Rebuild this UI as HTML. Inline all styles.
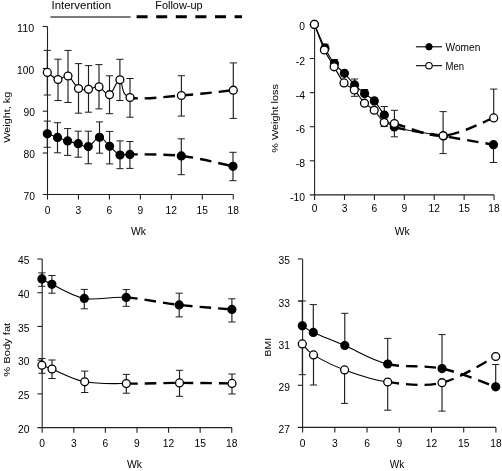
<!DOCTYPE html>
<html><head><meta charset="utf-8"><style>
html,body{margin:0;padding:0;background:#fff;}
svg{display:block;font-family:"Liberation Sans", sans-serif;will-change:transform;}
</style></head><body>
<svg width="502" height="471" viewBox="0 0 502 471">
<rect width="502" height="471" fill="#fff"/>
<line x1="47.3" y1="50.4" x2="47.3" y2="95" stroke="#1e1e1e" stroke-width="1.15"/>
<line x1="43.7" y1="50.4" x2="50.9" y2="50.4" stroke="#1e1e1e" stroke-width="1"/>
<line x1="43.7" y1="95" x2="50.9" y2="95" stroke="#1e1e1e" stroke-width="1"/>
<line x1="58" y1="59.2" x2="58" y2="100.5" stroke="#1e1e1e" stroke-width="1.15"/>
<line x1="54.4" y1="59.2" x2="61.6" y2="59.2" stroke="#1e1e1e" stroke-width="1"/>
<line x1="54.4" y1="100.5" x2="61.6" y2="100.5" stroke="#1e1e1e" stroke-width="1"/>
<line x1="68" y1="50.4" x2="68" y2="102.5" stroke="#1e1e1e" stroke-width="1.15"/>
<line x1="64.4" y1="50.4" x2="71.6" y2="50.4" stroke="#1e1e1e" stroke-width="1"/>
<line x1="64.4" y1="102.5" x2="71.6" y2="102.5" stroke="#1e1e1e" stroke-width="1"/>
<line x1="78.5" y1="63.6" x2="78.5" y2="113.2" stroke="#1e1e1e" stroke-width="1.15"/>
<line x1="74.9" y1="63.6" x2="82.1" y2="63.6" stroke="#1e1e1e" stroke-width="1"/>
<line x1="74.9" y1="113.2" x2="82.1" y2="113.2" stroke="#1e1e1e" stroke-width="1"/>
<line x1="88.5" y1="65.6" x2="88.5" y2="112.2" stroke="#1e1e1e" stroke-width="1.15"/>
<line x1="84.9" y1="65.6" x2="92.1" y2="65.6" stroke="#1e1e1e" stroke-width="1"/>
<line x1="84.9" y1="112.2" x2="92.1" y2="112.2" stroke="#1e1e1e" stroke-width="1"/>
<line x1="99" y1="64.6" x2="99" y2="108.9" stroke="#1e1e1e" stroke-width="1.15"/>
<line x1="95.4" y1="64.6" x2="102.6" y2="64.6" stroke="#1e1e1e" stroke-width="1"/>
<line x1="95.4" y1="108.9" x2="102.6" y2="108.9" stroke="#1e1e1e" stroke-width="1"/>
<line x1="109.5" y1="75.8" x2="109.5" y2="113.7" stroke="#1e1e1e" stroke-width="1.15"/>
<line x1="105.9" y1="75.8" x2="113.1" y2="75.8" stroke="#1e1e1e" stroke-width="1"/>
<line x1="105.9" y1="113.7" x2="113.1" y2="113.7" stroke="#1e1e1e" stroke-width="1"/>
<line x1="119.9" y1="59.3" x2="119.9" y2="100.5" stroke="#1e1e1e" stroke-width="1.15"/>
<line x1="116.3" y1="59.3" x2="123.5" y2="59.3" stroke="#1e1e1e" stroke-width="1"/>
<line x1="116.3" y1="100.5" x2="123.5" y2="100.5" stroke="#1e1e1e" stroke-width="1"/>
<line x1="130" y1="78.5" x2="130" y2="117.2" stroke="#1e1e1e" stroke-width="1.15"/>
<line x1="126.4" y1="78.5" x2="133.6" y2="78.5" stroke="#1e1e1e" stroke-width="1"/>
<line x1="126.4" y1="117.2" x2="133.6" y2="117.2" stroke="#1e1e1e" stroke-width="1"/>
<line x1="181.4" y1="75.7" x2="181.4" y2="116.1" stroke="#1e1e1e" stroke-width="1.15"/>
<line x1="177.8" y1="75.7" x2="185" y2="75.7" stroke="#1e1e1e" stroke-width="1"/>
<line x1="177.8" y1="116.1" x2="185" y2="116.1" stroke="#1e1e1e" stroke-width="1"/>
<line x1="233.3" y1="62.9" x2="233.3" y2="118.4" stroke="#1e1e1e" stroke-width="1.15"/>
<line x1="229.7" y1="62.9" x2="236.9" y2="62.9" stroke="#1e1e1e" stroke-width="1"/>
<line x1="229.7" y1="118.4" x2="236.9" y2="118.4" stroke="#1e1e1e" stroke-width="1"/>
<line x1="47.3" y1="121.1" x2="47.3" y2="147.3" stroke="#1e1e1e" stroke-width="1.15"/>
<line x1="43.7" y1="121.1" x2="50.9" y2="121.1" stroke="#1e1e1e" stroke-width="1"/>
<line x1="43.7" y1="147.3" x2="50.9" y2="147.3" stroke="#1e1e1e" stroke-width="1"/>
<line x1="57.5" y1="122.7" x2="57.5" y2="152.8" stroke="#1e1e1e" stroke-width="1.15"/>
<line x1="53.9" y1="122.7" x2="61.1" y2="122.7" stroke="#1e1e1e" stroke-width="1"/>
<line x1="53.9" y1="152.8" x2="61.1" y2="152.8" stroke="#1e1e1e" stroke-width="1"/>
<line x1="67.6" y1="128.6" x2="67.6" y2="155.4" stroke="#1e1e1e" stroke-width="1.15"/>
<line x1="64" y1="128.6" x2="71.2" y2="128.6" stroke="#1e1e1e" stroke-width="1"/>
<line x1="64" y1="155.4" x2="71.2" y2="155.4" stroke="#1e1e1e" stroke-width="1"/>
<line x1="78.2" y1="131.2" x2="78.2" y2="157.2" stroke="#1e1e1e" stroke-width="1.15"/>
<line x1="74.6" y1="131.2" x2="81.8" y2="131.2" stroke="#1e1e1e" stroke-width="1"/>
<line x1="74.6" y1="157.2" x2="81.8" y2="157.2" stroke="#1e1e1e" stroke-width="1"/>
<line x1="88.3" y1="131.2" x2="88.3" y2="163.8" stroke="#1e1e1e" stroke-width="1.15"/>
<line x1="84.7" y1="131.2" x2="91.9" y2="131.2" stroke="#1e1e1e" stroke-width="1"/>
<line x1="84.7" y1="163.8" x2="91.9" y2="163.8" stroke="#1e1e1e" stroke-width="1"/>
<line x1="99.5" y1="121.9" x2="99.5" y2="153.2" stroke="#1e1e1e" stroke-width="1.15"/>
<line x1="95.9" y1="121.9" x2="103.1" y2="121.9" stroke="#1e1e1e" stroke-width="1"/>
<line x1="95.9" y1="153.2" x2="103.1" y2="153.2" stroke="#1e1e1e" stroke-width="1"/>
<line x1="109.6" y1="131.4" x2="109.6" y2="163.9" stroke="#1e1e1e" stroke-width="1.15"/>
<line x1="106" y1="131.4" x2="113.2" y2="131.4" stroke="#1e1e1e" stroke-width="1"/>
<line x1="106" y1="163.9" x2="113.2" y2="163.9" stroke="#1e1e1e" stroke-width="1"/>
<line x1="120" y1="140.9" x2="120" y2="168.7" stroke="#1e1e1e" stroke-width="1.15"/>
<line x1="116.4" y1="140.9" x2="123.6" y2="140.9" stroke="#1e1e1e" stroke-width="1"/>
<line x1="116.4" y1="168.7" x2="123.6" y2="168.7" stroke="#1e1e1e" stroke-width="1"/>
<line x1="129.9" y1="141.5" x2="129.9" y2="168.4" stroke="#1e1e1e" stroke-width="1.15"/>
<line x1="126.3" y1="141.5" x2="133.5" y2="141.5" stroke="#1e1e1e" stroke-width="1"/>
<line x1="126.3" y1="168.4" x2="133.5" y2="168.4" stroke="#1e1e1e" stroke-width="1"/>
<line x1="181.3" y1="138.8" x2="181.3" y2="174.7" stroke="#1e1e1e" stroke-width="1.15"/>
<line x1="177.7" y1="138.8" x2="184.9" y2="138.8" stroke="#1e1e1e" stroke-width="1"/>
<line x1="177.7" y1="174.7" x2="184.9" y2="174.7" stroke="#1e1e1e" stroke-width="1"/>
<line x1="233" y1="152.3" x2="233" y2="180.7" stroke="#1e1e1e" stroke-width="1.15"/>
<line x1="229.4" y1="152.3" x2="236.6" y2="152.3" stroke="#1e1e1e" stroke-width="1"/>
<line x1="229.4" y1="180.7" x2="236.6" y2="180.7" stroke="#1e1e1e" stroke-width="1"/>
<line x1="325" y1="44.2" x2="325" y2="48.2" stroke="#1e1e1e" stroke-width="1.15"/>
<line x1="321.4" y1="44.2" x2="328.6" y2="44.2" stroke="#1e1e1e" stroke-width="1"/>
<line x1="334.4" y1="59.5" x2="334.4" y2="63.6" stroke="#1e1e1e" stroke-width="1.15"/>
<line x1="330.8" y1="59.5" x2="338" y2="59.5" stroke="#1e1e1e" stroke-width="1"/>
<line x1="354.6" y1="79" x2="354.6" y2="84.9" stroke="#1e1e1e" stroke-width="1.15"/>
<line x1="351" y1="79" x2="358.2" y2="79" stroke="#1e1e1e" stroke-width="1"/>
<line x1="354.6" y1="84.9" x2="354.6" y2="96.3" stroke="#1e1e1e" stroke-width="1.15"/>
<line x1="351" y1="96.3" x2="358.2" y2="96.3" stroke="#1e1e1e" stroke-width="1"/>
<line x1="364.6" y1="89.5" x2="364.6" y2="93.6" stroke="#1e1e1e" stroke-width="1.15"/>
<line x1="361" y1="89.5" x2="368.2" y2="89.5" stroke="#1e1e1e" stroke-width="1"/>
<line x1="374.3" y1="98" x2="374.3" y2="100.9" stroke="#1e1e1e" stroke-width="1.15"/>
<line x1="370.7" y1="98" x2="377.9" y2="98" stroke="#1e1e1e" stroke-width="1"/>
<line x1="384.3" y1="106.5" x2="384.3" y2="115" stroke="#1e1e1e" stroke-width="1.15"/>
<line x1="380.7" y1="106.5" x2="387.9" y2="106.5" stroke="#1e1e1e" stroke-width="1"/>
<line x1="493.5" y1="144.7" x2="493.5" y2="162.5" stroke="#1e1e1e" stroke-width="1.15"/>
<line x1="489.9" y1="162.5" x2="497.1" y2="162.5" stroke="#1e1e1e" stroke-width="1"/>
<line x1="384.2" y1="122.6" x2="384.2" y2="126.5" stroke="#1e1e1e" stroke-width="1.15"/>
<line x1="380.6" y1="126.5" x2="387.8" y2="126.5" stroke="#1e1e1e" stroke-width="1"/>
<line x1="394.4" y1="110.3" x2="394.4" y2="123.5" stroke="#1e1e1e" stroke-width="1.15"/>
<line x1="390.8" y1="110.3" x2="398" y2="110.3" stroke="#1e1e1e" stroke-width="1"/>
<line x1="394.4" y1="123.5" x2="394.4" y2="136.8" stroke="#1e1e1e" stroke-width="1.15"/>
<line x1="390.8" y1="136.8" x2="398" y2="136.8" stroke="#1e1e1e" stroke-width="1"/>
<line x1="443.1" y1="111.6" x2="443.1" y2="135.7" stroke="#1e1e1e" stroke-width="1.15"/>
<line x1="439.5" y1="111.6" x2="446.7" y2="111.6" stroke="#1e1e1e" stroke-width="1"/>
<line x1="443.1" y1="135.7" x2="443.1" y2="153.6" stroke="#1e1e1e" stroke-width="1.15"/>
<line x1="439.5" y1="153.6" x2="446.7" y2="153.6" stroke="#1e1e1e" stroke-width="1"/>
<line x1="493.7" y1="89.1" x2="493.7" y2="117.9" stroke="#1e1e1e" stroke-width="1.15"/>
<line x1="490.1" y1="89.1" x2="497.3" y2="89.1" stroke="#1e1e1e" stroke-width="1"/>
<line x1="41.9" y1="272.9" x2="41.9" y2="286.3" stroke="#1e1e1e" stroke-width="1.15"/>
<line x1="38.3" y1="272.9" x2="45.5" y2="272.9" stroke="#1e1e1e" stroke-width="1"/>
<line x1="38.3" y1="286.3" x2="45.5" y2="286.3" stroke="#1e1e1e" stroke-width="1"/>
<line x1="51.9" y1="275.5" x2="51.9" y2="293.2" stroke="#1e1e1e" stroke-width="1.15"/>
<line x1="48.3" y1="275.5" x2="55.5" y2="275.5" stroke="#1e1e1e" stroke-width="1"/>
<line x1="48.3" y1="293.2" x2="55.5" y2="293.2" stroke="#1e1e1e" stroke-width="1"/>
<line x1="84.3" y1="289.4" x2="84.3" y2="308.8" stroke="#1e1e1e" stroke-width="1.15"/>
<line x1="80.7" y1="289.4" x2="87.9" y2="289.4" stroke="#1e1e1e" stroke-width="1"/>
<line x1="80.7" y1="308.8" x2="87.9" y2="308.8" stroke="#1e1e1e" stroke-width="1"/>
<line x1="126.2" y1="289.6" x2="126.2" y2="306.3" stroke="#1e1e1e" stroke-width="1.15"/>
<line x1="122.6" y1="289.6" x2="129.8" y2="289.6" stroke="#1e1e1e" stroke-width="1"/>
<line x1="122.6" y1="306.3" x2="129.8" y2="306.3" stroke="#1e1e1e" stroke-width="1"/>
<line x1="179.2" y1="293.2" x2="179.2" y2="316.9" stroke="#1e1e1e" stroke-width="1.15"/>
<line x1="175.6" y1="293.2" x2="182.8" y2="293.2" stroke="#1e1e1e" stroke-width="1"/>
<line x1="175.6" y1="316.9" x2="182.8" y2="316.9" stroke="#1e1e1e" stroke-width="1"/>
<line x1="231.9" y1="298.8" x2="231.9" y2="322" stroke="#1e1e1e" stroke-width="1.15"/>
<line x1="228.3" y1="298.8" x2="235.5" y2="298.8" stroke="#1e1e1e" stroke-width="1"/>
<line x1="228.3" y1="322" x2="235.5" y2="322" stroke="#1e1e1e" stroke-width="1"/>
<line x1="41.9" y1="358.5" x2="41.9" y2="373.3" stroke="#1e1e1e" stroke-width="1.15"/>
<line x1="38.3" y1="358.5" x2="45.5" y2="358.5" stroke="#1e1e1e" stroke-width="1"/>
<line x1="38.3" y1="373.3" x2="45.5" y2="373.3" stroke="#1e1e1e" stroke-width="1"/>
<line x1="52" y1="360" x2="52" y2="378.5" stroke="#1e1e1e" stroke-width="1.15"/>
<line x1="48.4" y1="360" x2="55.6" y2="360" stroke="#1e1e1e" stroke-width="1"/>
<line x1="48.4" y1="378.5" x2="55.6" y2="378.5" stroke="#1e1e1e" stroke-width="1"/>
<line x1="84.7" y1="371.1" x2="84.7" y2="392.5" stroke="#1e1e1e" stroke-width="1.15"/>
<line x1="81.1" y1="371.1" x2="88.3" y2="371.1" stroke="#1e1e1e" stroke-width="1"/>
<line x1="81.1" y1="392.5" x2="88.3" y2="392.5" stroke="#1e1e1e" stroke-width="1"/>
<line x1="126.3" y1="374.4" x2="126.3" y2="393.2" stroke="#1e1e1e" stroke-width="1.15"/>
<line x1="122.7" y1="374.4" x2="129.9" y2="374.4" stroke="#1e1e1e" stroke-width="1"/>
<line x1="122.7" y1="393.2" x2="129.9" y2="393.2" stroke="#1e1e1e" stroke-width="1"/>
<line x1="179.5" y1="370.3" x2="179.5" y2="396.3" stroke="#1e1e1e" stroke-width="1.15"/>
<line x1="175.9" y1="370.3" x2="183.1" y2="370.3" stroke="#1e1e1e" stroke-width="1"/>
<line x1="175.9" y1="396.3" x2="183.1" y2="396.3" stroke="#1e1e1e" stroke-width="1"/>
<line x1="232" y1="374" x2="232" y2="394" stroke="#1e1e1e" stroke-width="1.15"/>
<line x1="228.4" y1="374" x2="235.6" y2="374" stroke="#1e1e1e" stroke-width="1"/>
<line x1="228.4" y1="394" x2="235.6" y2="394" stroke="#1e1e1e" stroke-width="1"/>
<line x1="302.3" y1="301" x2="302.3" y2="325.8" stroke="#1e1e1e" stroke-width="1.15"/>
<line x1="298.7" y1="301" x2="305.9" y2="301" stroke="#1e1e1e" stroke-width="1"/>
<line x1="313.3" y1="304.6" x2="313.3" y2="332.4" stroke="#1e1e1e" stroke-width="1.15"/>
<line x1="309.7" y1="304.6" x2="316.9" y2="304.6" stroke="#1e1e1e" stroke-width="1"/>
<line x1="344.8" y1="313.3" x2="344.8" y2="345.5" stroke="#1e1e1e" stroke-width="1.15"/>
<line x1="341.2" y1="313.3" x2="348.4" y2="313.3" stroke="#1e1e1e" stroke-width="1"/>
<line x1="387.7" y1="338.4" x2="387.7" y2="364" stroke="#1e1e1e" stroke-width="1.15"/>
<line x1="384.1" y1="338.4" x2="391.3" y2="338.4" stroke="#1e1e1e" stroke-width="1"/>
<line x1="442" y1="334.6" x2="442" y2="368.6" stroke="#1e1e1e" stroke-width="1.15"/>
<line x1="438.4" y1="334.6" x2="445.6" y2="334.6" stroke="#1e1e1e" stroke-width="1"/>
<line x1="495.7" y1="364.5" x2="495.7" y2="386.8" stroke="#1e1e1e" stroke-width="1.15"/>
<line x1="492.1" y1="364.5" x2="499.3" y2="364.5" stroke="#1e1e1e" stroke-width="1"/>
<line x1="302.3" y1="343.9" x2="302.3" y2="374.7" stroke="#1e1e1e" stroke-width="1.15"/>
<line x1="298.7" y1="374.7" x2="305.9" y2="374.7" stroke="#1e1e1e" stroke-width="1"/>
<line x1="313.5" y1="354.9" x2="313.5" y2="385" stroke="#1e1e1e" stroke-width="1.15"/>
<line x1="309.9" y1="385" x2="317.1" y2="385" stroke="#1e1e1e" stroke-width="1"/>
<line x1="344.6" y1="369.9" x2="344.6" y2="403.4" stroke="#1e1e1e" stroke-width="1.15"/>
<line x1="341" y1="403.4" x2="348.2" y2="403.4" stroke="#1e1e1e" stroke-width="1"/>
<line x1="387.7" y1="382" x2="387.7" y2="410.2" stroke="#1e1e1e" stroke-width="1.15"/>
<line x1="384.1" y1="410.2" x2="391.3" y2="410.2" stroke="#1e1e1e" stroke-width="1"/>
<line x1="442" y1="382.7" x2="442" y2="411.1" stroke="#1e1e1e" stroke-width="1.15"/>
<line x1="438.4" y1="411.1" x2="445.6" y2="411.1" stroke="#1e1e1e" stroke-width="1"/>
<line x1="47.5" y1="26.5" x2="47.5" y2="194.5" stroke="#222" stroke-width="1.1"/>
<line x1="42.7" y1="194.5" x2="233.26" y2="194.5" stroke="#222" stroke-width="1.1"/>
<line x1="42.7" y1="26.5" x2="47.5" y2="26.5" stroke="#222" stroke-width="1.1"/>
<line x1="42.7" y1="68.5" x2="47.5" y2="68.5" stroke="#222" stroke-width="1.1"/>
<line x1="42.7" y1="111.2" x2="47.5" y2="111.2" stroke="#222" stroke-width="1.1"/>
<line x1="42.7" y1="153" x2="47.5" y2="153" stroke="#222" stroke-width="1.1"/>
<line x1="47.5" y1="194.5" x2="47.5" y2="199.6" stroke="#222" stroke-width="1.1"/>
<line x1="78.46" y1="194.5" x2="78.46" y2="199.6" stroke="#222" stroke-width="1.1"/>
<line x1="109.42" y1="194.5" x2="109.42" y2="199.6" stroke="#222" stroke-width="1.1"/>
<line x1="140.38" y1="194.5" x2="140.38" y2="199.6" stroke="#222" stroke-width="1.1"/>
<line x1="171.34" y1="194.5" x2="171.34" y2="199.6" stroke="#222" stroke-width="1.1"/>
<line x1="202.3" y1="194.5" x2="202.3" y2="199.6" stroke="#222" stroke-width="1.1"/>
<line x1="233.26" y1="194.5" x2="233.26" y2="199.6" stroke="#222" stroke-width="1.1"/>
<line x1="314.6" y1="24.4" x2="314.6" y2="194.9" stroke="#222" stroke-width="1.1"/>
<line x1="309.8" y1="194.9" x2="494.06" y2="194.9" stroke="#222" stroke-width="1.1"/>
<line x1="309.8" y1="24.4" x2="314.6" y2="24.4" stroke="#222" stroke-width="1.1"/>
<line x1="309.8" y1="58.5" x2="314.6" y2="58.5" stroke="#222" stroke-width="1.1"/>
<line x1="309.8" y1="92.6" x2="314.6" y2="92.6" stroke="#222" stroke-width="1.1"/>
<line x1="309.8" y1="126.7" x2="314.6" y2="126.7" stroke="#222" stroke-width="1.1"/>
<line x1="309.8" y1="160.8" x2="314.6" y2="160.8" stroke="#222" stroke-width="1.1"/>
<line x1="314.6" y1="194.9" x2="314.6" y2="200" stroke="#222" stroke-width="1.1"/>
<line x1="344.51" y1="194.9" x2="344.51" y2="200" stroke="#222" stroke-width="1.1"/>
<line x1="374.42" y1="194.9" x2="374.42" y2="200" stroke="#222" stroke-width="1.1"/>
<line x1="404.33" y1="194.9" x2="404.33" y2="200" stroke="#222" stroke-width="1.1"/>
<line x1="434.24" y1="194.9" x2="434.24" y2="200" stroke="#222" stroke-width="1.1"/>
<line x1="464.15" y1="194.9" x2="464.15" y2="200" stroke="#222" stroke-width="1.1"/>
<line x1="494.06" y1="194.9" x2="494.06" y2="200" stroke="#222" stroke-width="1.1"/>
<line x1="42.2" y1="259" x2="42.2" y2="427.6" stroke="#222" stroke-width="1.1"/>
<line x1="37.4" y1="427.6" x2="231.74" y2="427.6" stroke="#222" stroke-width="1.1"/>
<line x1="37.4" y1="259" x2="42.2" y2="259" stroke="#222" stroke-width="1.1"/>
<line x1="37.4" y1="292.72" x2="42.2" y2="292.72" stroke="#222" stroke-width="1.1"/>
<line x1="37.4" y1="326.44" x2="42.2" y2="326.44" stroke="#222" stroke-width="1.1"/>
<line x1="37.4" y1="360.16" x2="42.2" y2="360.16" stroke="#222" stroke-width="1.1"/>
<line x1="37.4" y1="393.88" x2="42.2" y2="393.88" stroke="#222" stroke-width="1.1"/>
<line x1="42.2" y1="427.6" x2="42.2" y2="432.7" stroke="#222" stroke-width="1.1"/>
<line x1="73.79" y1="427.6" x2="73.79" y2="432.7" stroke="#222" stroke-width="1.1"/>
<line x1="105.38" y1="427.6" x2="105.38" y2="432.7" stroke="#222" stroke-width="1.1"/>
<line x1="136.97" y1="427.6" x2="136.97" y2="432.7" stroke="#222" stroke-width="1.1"/>
<line x1="168.56" y1="427.6" x2="168.56" y2="432.7" stroke="#222" stroke-width="1.1"/>
<line x1="200.15" y1="427.6" x2="200.15" y2="432.7" stroke="#222" stroke-width="1.1"/>
<line x1="231.74" y1="427.6" x2="231.74" y2="432.7" stroke="#222" stroke-width="1.1"/>
<line x1="302.6" y1="258.9" x2="302.6" y2="427.4" stroke="#222" stroke-width="1.1"/>
<line x1="297.8" y1="427.4" x2="495.92" y2="427.4" stroke="#222" stroke-width="1.1"/>
<line x1="297.8" y1="258.9" x2="302.6" y2="258.9" stroke="#222" stroke-width="1.1"/>
<line x1="297.8" y1="301.03" x2="302.6" y2="301.03" stroke="#222" stroke-width="1.1"/>
<line x1="297.8" y1="343.16" x2="302.6" y2="343.16" stroke="#222" stroke-width="1.1"/>
<line x1="297.8" y1="385.29" x2="302.6" y2="385.29" stroke="#222" stroke-width="1.1"/>
<line x1="302.6" y1="427.4" x2="302.6" y2="432.5" stroke="#222" stroke-width="1.1"/>
<line x1="334.82" y1="427.4" x2="334.82" y2="432.5" stroke="#222" stroke-width="1.1"/>
<line x1="367.04" y1="427.4" x2="367.04" y2="432.5" stroke="#222" stroke-width="1.1"/>
<line x1="399.26" y1="427.4" x2="399.26" y2="432.5" stroke="#222" stroke-width="1.1"/>
<line x1="431.48" y1="427.4" x2="431.48" y2="432.5" stroke="#222" stroke-width="1.1"/>
<line x1="463.7" y1="427.4" x2="463.7" y2="432.5" stroke="#222" stroke-width="1.1"/>
<line x1="495.92" y1="427.4" x2="495.92" y2="432.5" stroke="#222" stroke-width="1.1"/>
<path d="M47.3,72.4 C49.08,73.58 54.55,78.9 58,79.5 C61.45,80.1 64.58,74.5 68,76 C71.42,77.5 75.08,86.28 78.5,88.5 C81.92,90.72 85.08,89.58 88.5,89.3 C91.92,89.02 95.5,85.9 99,86.8 C102.5,87.7 106.02,95.87 109.5,94.7 C112.98,93.53 116.48,79.33 119.9,79.8 C123.32,80.27 119.75,94.88 130,97.5" fill="none" stroke="#000" stroke-width="1.1"/>
<path d="M130,97.5 C140.25,100.12 164.18,96.72 181.4,95.5 C198.62,94.28 224.65,91.08 233.3,90.2" fill="none" stroke="#000" stroke-width="2.4" stroke-dasharray="11.5 7" stroke-dashoffset="3.5"/>
<path d="M47.3,133.8 C49,134.4 54.12,136.22 57.5,137.4 C60.88,138.58 64.15,139.85 67.6,140.9 C71.05,141.95 74.75,142.75 78.2,143.7 C81.65,144.65 84.75,147.67 88.3,146.6 C91.85,145.53 95.95,137.35 99.5,137.3 C103.05,137.25 106.18,143.35 109.6,146.3 C113.02,149.25 116.62,153.65 120,155 C123.38,156.35 119.68,154.25 129.9,154.4" fill="none" stroke="#000" stroke-width="1.1"/>
<path d="M129.9,154.4 C140.12,154.55 164.12,153.92 181.3,155.9 C198.48,157.88 224.38,164.57 233,166.3" fill="none" stroke="#000" stroke-width="2.4" stroke-dasharray="11.5 7" stroke-dashoffset="3.5"/>
<path d="M314.4,24.4 C316.17,28.37 321.67,41.67 325,48.2 C328.33,54.73 331.17,59.42 334.4,63.6 C337.63,67.78 341.03,69.75 344.4,73.3 C347.77,76.85 351.23,81.52 354.6,84.9 C357.97,88.28 361.32,90.93 364.6,93.6 C367.88,96.27 371.02,97.33 374.3,100.9 C377.58,104.47 380.97,110.67 384.3,115 C387.63,119.33 384.43,123.4 394.3,126.9" fill="none" stroke="#000" stroke-width="1.1"/>
<path d="M394.3,126.9 C404.17,130.4 426.97,133.03 443.5,136 C460.03,138.97 485.17,143.25 493.5,144.7" fill="none" stroke="#000" stroke-width="2.4" stroke-dasharray="11.5 7" stroke-dashoffset="0"/>
<path d="M394.3,126.9 C404.17,130.4 426.97,133.03 443.5,136" fill="none" stroke="#000" stroke-width="1"/>
<path d="M314.4,24.4 C316.07,28.67 321.12,42.93 324.4,50 C327.68,57.07 330.83,61.32 334.1,66.8 C337.37,72.28 340.63,79.03 344,82.9 C347.37,86.77 350.88,86.62 354.3,90 C357.72,93.38 361.18,99.83 364.5,103.2 C367.82,106.57 370.92,106.97 374.2,110.2 C377.48,113.43 380.83,120.38 384.2,122.6 C387.57,124.82 384.58,121.32 394.4,123.5" fill="none" stroke="#000" stroke-width="1.1"/>
<path d="M394.4,123.5 C404.22,125.68 426.55,136.63 443.1,135.7 C459.65,134.77 485.27,120.87 493.7,117.9" fill="none" stroke="#000" stroke-width="2.4" stroke-dasharray="11.5 7" stroke-dashoffset="0"/>
<path d="M41.9,278.9 C43.57,279.8 44.83,281.05 51.9,284.3 C58.97,287.55 71.92,296.22 84.3,298.4 C96.68,300.58 110.38,296.32 126.2,297.4" fill="none" stroke="#000" stroke-width="1.1"/>
<path d="M126.2,297.4 C142.02,298.48 161.58,302.9 179.2,304.9 C196.82,306.9 223.12,308.65 231.9,309.4" fill="none" stroke="#000" stroke-width="2.4" stroke-dasharray="11.5 7" stroke-dashoffset="0"/>
<path d="M41.9,365.2 C43.58,365.83 44.87,366.23 52,369 C59.13,371.77 72.32,379.37 84.7,381.8 C97.08,384.23 110.5,383.42 126.3,383.6" fill="none" stroke="#000" stroke-width="1.1"/>
<path d="M126.3,383.6 C142.1,383.78 161.88,382.93 179.5,382.9 C197.12,382.87 223.25,383.32 232,383.4" fill="none" stroke="#000" stroke-width="2.4" stroke-dasharray="11.5 7" stroke-dashoffset="0"/>
<path d="M302.3,325.8 C304.13,326.9 306.22,329.12 313.3,332.4 C320.38,335.68 332.4,340.23 344.8,345.5 C357.2,350.77 371.5,360.15 387.7,364" fill="none" stroke="#000" stroke-width="1.1"/>
<path d="M387.7,364 C403.9,367.85 424,364.8 442,368.6 C460,372.4 486.75,383.77 495.7,386.8" fill="none" stroke="#000" stroke-width="2.4" stroke-dasharray="11.5 7" stroke-dashoffset="0"/>
<path d="M302.3,343.9 C304.17,345.73 306.45,350.57 313.5,354.9 C320.55,359.23 332.23,365.38 344.6,369.9 C356.97,374.42 371.47,379.87 387.7,382" fill="none" stroke="#000" stroke-width="1.1"/>
<path d="M387.7,382 C403.93,384.13 424,386.95 442,382.7 C460,378.45 486.75,360.87 495.7,356.5" fill="none" stroke="#000" stroke-width="2.4" stroke-dasharray="11.5 7" stroke-dashoffset="0"/>
<circle cx="47.3" cy="72.4" r="3.95" fill="#fff" stroke="#000" stroke-width="1.3"/>
<circle cx="58" cy="79.5" r="3.95" fill="#fff" stroke="#000" stroke-width="1.3"/>
<circle cx="68" cy="76" r="3.95" fill="#fff" stroke="#000" stroke-width="1.3"/>
<circle cx="78.5" cy="88.5" r="3.95" fill="#fff" stroke="#000" stroke-width="1.3"/>
<circle cx="88.5" cy="89.3" r="3.95" fill="#fff" stroke="#000" stroke-width="1.3"/>
<circle cx="99" cy="86.8" r="3.95" fill="#fff" stroke="#000" stroke-width="1.3"/>
<circle cx="109.5" cy="94.7" r="3.95" fill="#fff" stroke="#000" stroke-width="1.3"/>
<circle cx="119.9" cy="79.8" r="3.95" fill="#fff" stroke="#000" stroke-width="1.3"/>
<circle cx="130" cy="97.5" r="3.95" fill="#fff" stroke="#000" stroke-width="1.3"/>
<circle cx="181.4" cy="95.5" r="3.95" fill="#fff" stroke="#000" stroke-width="1.3"/>
<circle cx="233.3" cy="90.2" r="3.95" fill="#fff" stroke="#000" stroke-width="1.3"/>
<circle cx="47.3" cy="133.8" r="3.95" fill="#000" stroke="#000" stroke-width="1.3"/>
<circle cx="57.5" cy="137.4" r="3.95" fill="#000" stroke="#000" stroke-width="1.3"/>
<circle cx="67.6" cy="140.9" r="3.95" fill="#000" stroke="#000" stroke-width="1.3"/>
<circle cx="78.2" cy="143.7" r="3.95" fill="#000" stroke="#000" stroke-width="1.3"/>
<circle cx="88.3" cy="146.6" r="3.95" fill="#000" stroke="#000" stroke-width="1.3"/>
<circle cx="99.5" cy="137.3" r="3.95" fill="#000" stroke="#000" stroke-width="1.3"/>
<circle cx="109.6" cy="146.3" r="3.95" fill="#000" stroke="#000" stroke-width="1.3"/>
<circle cx="120" cy="155" r="3.95" fill="#000" stroke="#000" stroke-width="1.3"/>
<circle cx="129.9" cy="154.4" r="3.95" fill="#000" stroke="#000" stroke-width="1.3"/>
<circle cx="181.3" cy="155.9" r="3.95" fill="#000" stroke="#000" stroke-width="1.3"/>
<circle cx="233" cy="166.3" r="3.95" fill="#000" stroke="#000" stroke-width="1.3"/>
<circle cx="314.4" cy="24.4" r="3.95" fill="#000" stroke="#000" stroke-width="1.3"/>
<circle cx="325" cy="48.2" r="3.95" fill="#000" stroke="#000" stroke-width="1.3"/>
<circle cx="334.4" cy="63.6" r="3.95" fill="#000" stroke="#000" stroke-width="1.3"/>
<circle cx="344.4" cy="73.3" r="3.95" fill="#000" stroke="#000" stroke-width="1.3"/>
<circle cx="354.6" cy="84.9" r="3.95" fill="#000" stroke="#000" stroke-width="1.3"/>
<circle cx="364.6" cy="93.6" r="3.95" fill="#000" stroke="#000" stroke-width="1.3"/>
<circle cx="374.3" cy="100.9" r="3.95" fill="#000" stroke="#000" stroke-width="1.3"/>
<circle cx="384.3" cy="115" r="3.95" fill="#000" stroke="#000" stroke-width="1.3"/>
<circle cx="394.3" cy="126.9" r="3.95" fill="#000" stroke="#000" stroke-width="1.3"/>
<circle cx="443.5" cy="136" r="3.95" fill="#000" stroke="#000" stroke-width="1.3"/>
<circle cx="493.5" cy="144.7" r="3.95" fill="#000" stroke="#000" stroke-width="1.3"/>
<circle cx="314.4" cy="24.4" r="3.95" fill="#fff" stroke="#000" stroke-width="1.3"/>
<circle cx="324.4" cy="50" r="3.95" fill="#fff" stroke="#000" stroke-width="1.3"/>
<circle cx="334.1" cy="66.8" r="3.95" fill="#fff" stroke="#000" stroke-width="1.3"/>
<circle cx="344" cy="82.9" r="3.95" fill="#fff" stroke="#000" stroke-width="1.3"/>
<circle cx="354.3" cy="90" r="3.95" fill="#fff" stroke="#000" stroke-width="1.3"/>
<circle cx="364.5" cy="103.2" r="3.95" fill="#fff" stroke="#000" stroke-width="1.3"/>
<circle cx="374.2" cy="110.2" r="3.95" fill="#fff" stroke="#000" stroke-width="1.3"/>
<circle cx="384.2" cy="122.6" r="3.95" fill="#fff" stroke="#000" stroke-width="1.3"/>
<circle cx="394.4" cy="123.5" r="3.95" fill="#fff" stroke="#000" stroke-width="1.3"/>
<circle cx="443.1" cy="135.7" r="3.95" fill="#fff" stroke="#000" stroke-width="1.3"/>
<circle cx="493.7" cy="117.9" r="3.95" fill="#fff" stroke="#000" stroke-width="1.3"/>
<line x1="415.9" y1="46.8" x2="442" y2="46.8" stroke="#000" stroke-width="1.1"/>
<circle cx="429" cy="46.8" r="3.2" fill="#000" stroke="#000" stroke-width="1"/>
<line x1="415.9" y1="65.7" x2="442" y2="65.7" stroke="#000" stroke-width="1.1"/>
<circle cx="429" cy="65.7" r="3.2" fill="#fff" stroke="#000" stroke-width="1.1"/>
<circle cx="41.9" cy="278.9" r="3.95" fill="#000" stroke="#000" stroke-width="1.3"/>
<circle cx="51.9" cy="284.3" r="3.95" fill="#000" stroke="#000" stroke-width="1.3"/>
<circle cx="84.3" cy="298.4" r="3.95" fill="#000" stroke="#000" stroke-width="1.3"/>
<circle cx="126.2" cy="297.4" r="3.95" fill="#000" stroke="#000" stroke-width="1.3"/>
<circle cx="179.2" cy="304.9" r="3.95" fill="#000" stroke="#000" stroke-width="1.3"/>
<circle cx="231.9" cy="309.4" r="3.95" fill="#000" stroke="#000" stroke-width="1.3"/>
<circle cx="41.9" cy="365.2" r="3.95" fill="#fff" stroke="#000" stroke-width="1.3"/>
<circle cx="52" cy="369" r="3.95" fill="#fff" stroke="#000" stroke-width="1.3"/>
<circle cx="84.7" cy="381.8" r="3.95" fill="#fff" stroke="#000" stroke-width="1.3"/>
<circle cx="126.3" cy="383.6" r="3.95" fill="#fff" stroke="#000" stroke-width="1.3"/>
<circle cx="179.5" cy="382.9" r="3.95" fill="#fff" stroke="#000" stroke-width="1.3"/>
<circle cx="232" cy="383.4" r="3.95" fill="#fff" stroke="#000" stroke-width="1.3"/>
<circle cx="302.3" cy="325.8" r="3.95" fill="#000" stroke="#000" stroke-width="1.3"/>
<circle cx="313.3" cy="332.4" r="3.95" fill="#000" stroke="#000" stroke-width="1.3"/>
<circle cx="344.8" cy="345.5" r="3.95" fill="#000" stroke="#000" stroke-width="1.3"/>
<circle cx="387.7" cy="364" r="3.95" fill="#000" stroke="#000" stroke-width="1.3"/>
<circle cx="442" cy="368.6" r="3.95" fill="#000" stroke="#000" stroke-width="1.3"/>
<circle cx="495.7" cy="386.8" r="3.95" fill="#000" stroke="#000" stroke-width="1.3"/>
<circle cx="302.3" cy="343.9" r="3.95" fill="#fff" stroke="#000" stroke-width="1.3"/>
<circle cx="313.5" cy="354.9" r="3.95" fill="#fff" stroke="#000" stroke-width="1.3"/>
<circle cx="344.6" cy="369.9" r="3.95" fill="#fff" stroke="#000" stroke-width="1.3"/>
<circle cx="387.7" cy="382" r="3.95" fill="#fff" stroke="#000" stroke-width="1.3"/>
<circle cx="442" cy="382.7" r="3.95" fill="#fff" stroke="#000" stroke-width="1.3"/>
<circle cx="495.7" cy="356.5" r="3.95" fill="#fff" stroke="#000" stroke-width="1.3"/>
<text x="34.2" y="32.1" font-size="10" text-anchor="end" fill="#000" textLength="17.1" lengthAdjust="spacingAndGlyphs">110</text>
<text x="34.2" y="74.05" font-size="10" text-anchor="end" fill="#000" textLength="17.1" lengthAdjust="spacingAndGlyphs">100</text>
<text x="35" y="116" font-size="10" text-anchor="end" fill="#000" textLength="11.4" lengthAdjust="spacingAndGlyphs">90</text>
<text x="35" y="157.95" font-size="10" text-anchor="end" fill="#000" textLength="11.4" lengthAdjust="spacingAndGlyphs">80</text>
<text x="35" y="199.9" font-size="10" text-anchor="end" fill="#000" textLength="11.4" lengthAdjust="spacingAndGlyphs">70</text>
<text x="47.5" y="213.7" font-size="10" text-anchor="middle" fill="#000" textLength="5.7" lengthAdjust="spacingAndGlyphs">0</text>
<text x="78.46" y="213.7" font-size="10" text-anchor="middle" fill="#000" textLength="5.7" lengthAdjust="spacingAndGlyphs">3</text>
<text x="109.42" y="213.7" font-size="10" text-anchor="middle" fill="#000" textLength="5.7" lengthAdjust="spacingAndGlyphs">6</text>
<text x="140.38" y="213.7" font-size="10" text-anchor="middle" fill="#000" textLength="5.7" lengthAdjust="spacingAndGlyphs">9</text>
<text x="171.34" y="213.7" font-size="10" text-anchor="middle" fill="#000" textLength="11.4" lengthAdjust="spacingAndGlyphs">12</text>
<text x="202.3" y="213.7" font-size="10" text-anchor="middle" fill="#000" textLength="11.4" lengthAdjust="spacingAndGlyphs">15</text>
<text x="233.26" y="213.7" font-size="10" text-anchor="middle" fill="#000" textLength="11.4" lengthAdjust="spacingAndGlyphs">18</text>
<text x="138.4" y="235" font-size="10" text-anchor="middle" fill="#000" textLength="15" lengthAdjust="spacingAndGlyphs">Wk</text>
<text transform="translate(9.7,117.2) rotate(-90)" x="0" y="0" font-size="9.6" text-anchor="middle" fill="#000" textLength="51" lengthAdjust="spacingAndGlyphs">Weight, kg</text>
<text x="51.6" y="9.2" font-size="10" text-anchor="start" fill="#000" textLength="59.5" lengthAdjust="spacingAndGlyphs">Intervention</text>
<text x="155.2" y="9.2" font-size="10" text-anchor="start" fill="#000" textLength="47.5" lengthAdjust="spacingAndGlyphs">Follow-up</text>
<line x1="50.4" y1="17" x2="130.6" y2="17" stroke="#7a7a7a" stroke-width="1.8"/>
<line x1="136.6" y1="16.7" x2="242" y2="16.7" stroke="#000" stroke-width="3" stroke-dasharray="11 8.6"/>
<text x="305" y="30.4" font-size="10" text-anchor="end" fill="#000" textLength="5.7" lengthAdjust="spacingAndGlyphs">0</text>
<text x="305" y="64.5" font-size="10" text-anchor="end" fill="#000" textLength="9.3" lengthAdjust="spacingAndGlyphs">-2</text>
<text x="305" y="98.6" font-size="10" text-anchor="end" fill="#000" textLength="9.3" lengthAdjust="spacingAndGlyphs">-4</text>
<text x="305" y="132.7" font-size="10" text-anchor="end" fill="#000" textLength="9.3" lengthAdjust="spacingAndGlyphs">-6</text>
<text x="305" y="166.8" font-size="10" text-anchor="end" fill="#000" textLength="9.3" lengthAdjust="spacingAndGlyphs">-8</text>
<text x="305" y="200.9" font-size="10" text-anchor="end" fill="#000" textLength="15" lengthAdjust="spacingAndGlyphs">-10</text>
<text x="314.6" y="212.4" font-size="10" text-anchor="middle" fill="#000" textLength="5.7" lengthAdjust="spacingAndGlyphs">0</text>
<text x="344.51" y="212.4" font-size="10" text-anchor="middle" fill="#000" textLength="5.7" lengthAdjust="spacingAndGlyphs">3</text>
<text x="374.42" y="212.4" font-size="10" text-anchor="middle" fill="#000" textLength="5.7" lengthAdjust="spacingAndGlyphs">6</text>
<text x="404.33" y="212.4" font-size="10" text-anchor="middle" fill="#000" textLength="5.7" lengthAdjust="spacingAndGlyphs">9</text>
<text x="434.24" y="212.4" font-size="10" text-anchor="middle" fill="#000" textLength="11.4" lengthAdjust="spacingAndGlyphs">12</text>
<text x="464.15" y="212.4" font-size="10" text-anchor="middle" fill="#000" textLength="11.4" lengthAdjust="spacingAndGlyphs">15</text>
<text x="494.06" y="212.4" font-size="10" text-anchor="middle" fill="#000" textLength="11.4" lengthAdjust="spacingAndGlyphs">18</text>
<text x="402.2" y="235" font-size="10" text-anchor="middle" fill="#000" textLength="15" lengthAdjust="spacingAndGlyphs">Wk</text>
<text transform="translate(278.1,118.4) rotate(-90)" x="0" y="0" font-size="9.6" text-anchor="middle" fill="#000" textLength="68.5" lengthAdjust="spacingAndGlyphs">% Weight loss</text>
<text x="445.5" y="51.2" font-size="10" text-anchor="start" fill="#000" textLength="34.8" lengthAdjust="spacingAndGlyphs">Women</text>
<text x="445.5" y="70" font-size="10" text-anchor="start" fill="#000" textLength="18.5" lengthAdjust="spacingAndGlyphs">Men</text>
<text x="29.4" y="264.2" font-size="10" text-anchor="end" fill="#000" textLength="11.4" lengthAdjust="spacingAndGlyphs">45</text>
<text x="29.4" y="297.92" font-size="10" text-anchor="end" fill="#000" textLength="11.4" lengthAdjust="spacingAndGlyphs">40</text>
<text x="29.4" y="331.64" font-size="10" text-anchor="end" fill="#000" textLength="11.4" lengthAdjust="spacingAndGlyphs">35</text>
<text x="29.4" y="365.36" font-size="10" text-anchor="end" fill="#000" textLength="11.4" lengthAdjust="spacingAndGlyphs">30</text>
<text x="29.4" y="399.08" font-size="10" text-anchor="end" fill="#000" textLength="11.4" lengthAdjust="spacingAndGlyphs">25</text>
<text x="29.4" y="432.8" font-size="10" text-anchor="end" fill="#000" textLength="11.4" lengthAdjust="spacingAndGlyphs">20</text>
<text x="42.2" y="447.4" font-size="10" text-anchor="middle" fill="#000" textLength="5.7" lengthAdjust="spacingAndGlyphs">0</text>
<text x="73.79" y="447.4" font-size="10" text-anchor="middle" fill="#000" textLength="5.7" lengthAdjust="spacingAndGlyphs">3</text>
<text x="105.38" y="447.4" font-size="10" text-anchor="middle" fill="#000" textLength="5.7" lengthAdjust="spacingAndGlyphs">6</text>
<text x="136.97" y="447.4" font-size="10" text-anchor="middle" fill="#000" textLength="5.7" lengthAdjust="spacingAndGlyphs">9</text>
<text x="168.56" y="447.4" font-size="10" text-anchor="middle" fill="#000" textLength="11.4" lengthAdjust="spacingAndGlyphs">12</text>
<text x="200.15" y="447.4" font-size="10" text-anchor="middle" fill="#000" textLength="11.4" lengthAdjust="spacingAndGlyphs">15</text>
<text x="231.74" y="447.4" font-size="10" text-anchor="middle" fill="#000" textLength="11.4" lengthAdjust="spacingAndGlyphs">18</text>
<text x="134.5" y="468" font-size="10" text-anchor="middle" fill="#000" textLength="15" lengthAdjust="spacingAndGlyphs">Wk</text>
<text transform="translate(10.4,349.8) rotate(-90)" x="0" y="0" font-size="9.6" text-anchor="middle" fill="#000" textLength="54" lengthAdjust="spacingAndGlyphs">% Body fat</text>
<text x="290" y="264.4" font-size="10" text-anchor="end" fill="#000" textLength="11.4" lengthAdjust="spacingAndGlyphs">35</text>
<text x="290" y="306.53" font-size="10" text-anchor="end" fill="#000" textLength="11.4" lengthAdjust="spacingAndGlyphs">33</text>
<text x="290" y="348.66" font-size="10" text-anchor="end" fill="#000" textLength="11.4" lengthAdjust="spacingAndGlyphs">31</text>
<text x="290" y="390.79" font-size="10" text-anchor="end" fill="#000" textLength="11.4" lengthAdjust="spacingAndGlyphs">29</text>
<text x="290" y="432.92" font-size="10" text-anchor="end" fill="#000" textLength="11.4" lengthAdjust="spacingAndGlyphs">27</text>
<text x="302.6" y="447" font-size="10" text-anchor="middle" fill="#000" textLength="5.7" lengthAdjust="spacingAndGlyphs">0</text>
<text x="334.82" y="447" font-size="10" text-anchor="middle" fill="#000" textLength="5.7" lengthAdjust="spacingAndGlyphs">3</text>
<text x="367.04" y="447" font-size="10" text-anchor="middle" fill="#000" textLength="5.7" lengthAdjust="spacingAndGlyphs">6</text>
<text x="399.26" y="447" font-size="10" text-anchor="middle" fill="#000" textLength="5.7" lengthAdjust="spacingAndGlyphs">9</text>
<text x="431.48" y="447" font-size="10" text-anchor="middle" fill="#000" textLength="11.4" lengthAdjust="spacingAndGlyphs">12</text>
<text x="463.7" y="447" font-size="10" text-anchor="middle" fill="#000" textLength="11.4" lengthAdjust="spacingAndGlyphs">15</text>
<text x="495.92" y="447" font-size="10" text-anchor="middle" fill="#000" textLength="11.4" lengthAdjust="spacingAndGlyphs">18</text>
<text x="397" y="468" font-size="10" text-anchor="middle" fill="#000" textLength="14.5" lengthAdjust="spacingAndGlyphs">Wk</text>
<text transform="translate(271,347.2) rotate(-90)" x="0" y="0" font-size="9.8" text-anchor="middle" fill="#000" textLength="18.4" lengthAdjust="spacingAndGlyphs">BMI</text>
</svg>
</body></html>
